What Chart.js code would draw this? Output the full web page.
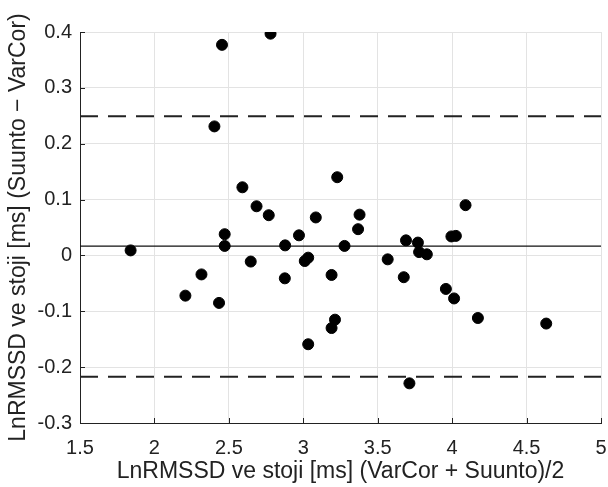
<!DOCTYPE html>
<html>
<head>
<meta charset="utf-8">
<script src="https://cdn.jsdelivr.net/npm/chart.js@4.4.0/dist/chart.umd.min.js"></script>
<style>
  html, body { margin: 0; padding: 0; background: #fff; }
  #wrap { width: 608px; height: 487px; }
</style>
</head>
<body>
<div id="wrap"><canvas id="myChart" width="608" height="487"></canvas></div>
<script>
// mean of the two methods (x) and difference Suunto - VarCor (y)
var meanValues = [1.84, 2.208, 2.316, 2.403, 2.434, 2.454, 2.472, 2.472, 2.591, 2.647,
    2.686, 2.768, 2.78, 2.876, 2.878, 2.971, 3.01, 3.033, 3.033, 3.084,
    3.19, 3.19, 3.213, 3.228, 3.277, 3.368, 3.378, 3.567, 3.675, 3.69,
    3.713, 3.77, 3.778, 3.83, 3.958, 3.995, 4.013, 4.025, 4.09, 4.173, 4.632];
var diffValues = [0.009, -0.072, -0.034, 0.231, -0.085, 0.377, 0.038, 0.017, 0.122, -0.011,
    0.088, 0.072, 0.397, -0.041, 0.018, 0.036, -0.010, -0.004, -0.159, 0.068,
    -0.035, -0.130, -0.115, 0.140, 0.017, 0.047, 0.073, -0.007, -0.039, 0.027,
    -0.229, 0.023, 0.006, 0.002, -0.060, 0.034, -0.077, 0.035, 0.090, -0.112, -0.122];

var biasLine = 0.0167;
var upperLimit = 0.249;
var lowerLimit = -0.217;

var xTicks = [1.5, 2, 2.5, 3, 3.5, 4, 4.5, 5];
var yTicks = [-0.3, -0.2, -0.1, 0, 0.1, 0.2, 0.3, 0.4];

var points = [];
for (var i = 0; i < meanValues.length; i++) {
    points.push({ x: meanValues[i], y: diffValues[i] });
}

function hline(v) {
    return [{ x: xTicks[0], y: v }, { x: xTicks[xTicks.length - 1], y: v }];
}

// small tick marks pointing inside the plot, like in the original figure
var innerTicks = {
    id: 'innerTicks',
    afterDraw: function (chart) {
        var ctx = chart.ctx;
        var xs = chart.scales.x, ys = chart.scales.y;
        var area = chart.chartArea;
        ctx.save();
        ctx.strokeStyle = '#222';
        ctx.lineWidth = 1;
        ctx.beginPath();
        xTicks.forEach(function (t) {
            var px = Math.round(xs.getPixelForValue(t)) + 0.5;
            ctx.moveTo(px, area.bottom);
            ctx.lineTo(px, area.bottom - 5);
        });
        yTicks.forEach(function (t) {
            var py = Math.round(ys.getPixelForValue(t)) + 0.5;
            ctx.moveTo(area.left, py);
            ctx.lineTo(area.left + 5, py);
        });
        ctx.stroke();
        ctx.restore();
    }
};

var tickFont = { family: 'Liberation Sans, Arial, sans-serif', size: 20 };
var titleFont = { family: 'Liberation Sans, Arial, sans-serif', size: 23 };

new Chart(document.getElementById('myChart'), {
    type: 'scatter',
    data: {
        datasets: [{
            data: points,
            backgroundColor: '#000',
            borderColor: '#000',
            pointRadius: 5.5,
            pointHoverRadius: 5.5
        }, {
            type: 'line',
            data: hline(biasLine),
            borderColor: '#111',
            borderWidth: 1.2,
            pointRadius: 0
        }, {
            type: 'line',
            data: hline(upperLimit),
            borderColor: '#222',
            borderWidth: 2,
            borderDash: [18, 10],
            pointRadius: 0
        }, {
            type: 'line',
            data: hline(lowerLimit),
            borderColor: '#222',
            borderWidth: 2,
            borderDash: [18, 10],
            pointRadius: 0
        }]
    },
    options: {
        responsive: false,
        animation: false,
        layout: { padding: { top: 32, right: 7, left: 0, bottom: 0 } },
        plugins: { legend: { display: false }, tooltip: { enabled: false } },
        scales: {
            x: {
                type: 'linear',
                min: 1.5, max: 5,
                afterBuildTicks: function (s) { s.ticks = xTicks.map(function (v) { return { value: v }; }); },
                afterFit: function (s) { s.height = 64; s.paddingLeft = 0; s.paddingRight = 0; },
                ticks: {
                    color: '#222', font: tickFont, padding: 13, maxRotation: 0,
                    callback: function (v) { return String(Math.round(v * 10) / 10); }
                },
                grid: { color: '#e3e3e3', drawTicks: false },
                border: { color: '#222', width: 1 },
                title: {
                    display: true,
                    text: 'LnRMSSD ve stoji [ms] (VarCor + Suunto)/2',
                    color: '#222', font: titleFont, padding: { top: 0, bottom: 2 }
                }
            },
            y: {
                type: 'linear',
                min: -0.3, max: 0.4,
                afterBuildTicks: function (s) { s.ticks = yTicks.map(function (v) { return { value: v }; }); },
                afterFit: function (s) { s.width = 80; s.paddingTop = 0; s.paddingBottom = 0; },
                ticks: {
                    color: '#222', font: tickFont, padding: 8,
                    callback: function (v) { return String(Math.round(v * 10) / 10); }
                },
                grid: { color: '#e3e3e3', drawTicks: false },
                border: { color: '#222', width: 1 },
                title: {
                    display: true,
                    text: 'LnRMSSD ve stoji [ms] (Suunto \u2212 VarCor)',
                    color: '#222', font: titleFont, padding: { top: 5, bottom: 0 }
                }
            }
        }
    },
    plugins: [innerTicks]
});
</script>
</body>
</html>
